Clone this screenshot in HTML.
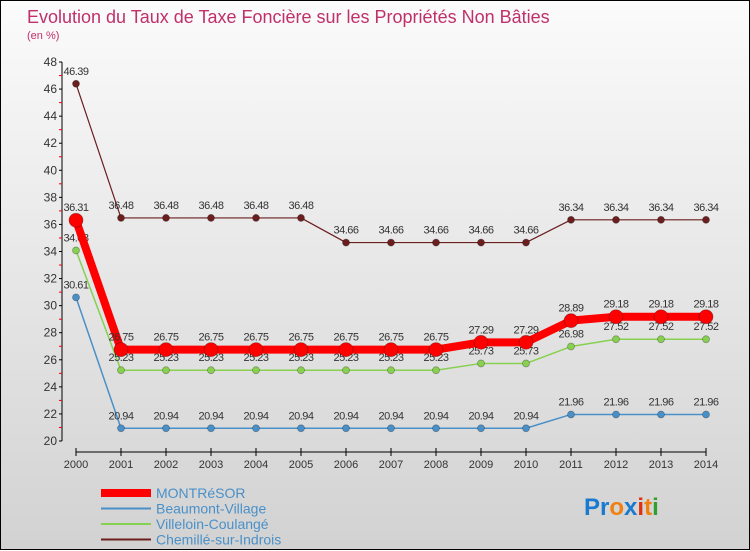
<!DOCTYPE html>
<html><head><meta charset="utf-8"><style>
body{margin:0;}
#wrap{width:750px;height:550px;position:relative;background:linear-gradient(#fbfbfb,#d2d2d2);border:1px solid #000;box-sizing:border-box;font-family:"Liberation Sans",sans-serif;}
svg text{font-family:"Liberation Sans",sans-serif;}
</style></head><body>
<div id="wrap">
<svg id="chart" width="750" height="550" style="position:absolute;left:0;top:0">
<text x="26" y="22" font-size="18" fill="#c0306a">Evolution du Taux de Taxe Foncière sur les Propriétés Non Bâties</text>
<text x="26" y="38" font-size="11" fill="#c0306a">(en %)</text>
<g id="axes"></g><g id="series"></g><g id="legend"></g>
<text x="583" y="514" font-size="24" font-weight="bold"><tspan fill="#1a7ad0">Pr</tspan><tspan fill="#f08010">o</tspan><tspan fill="#1a7ad0">x</tspan><tspan fill="#e03010">i</tspan><tspan fill="#f08010">t</tspan><tspan fill="#30a030">i</tspan></text>
</svg>
</div>
<script>
const years=[2000,2001,2002,2003,2004,2005,2006,2007,2008,2009,2010,2011,2012,2013,2014];
const yTicks=[20,22,24,26,28,30,32,34,36,38,40,42,44,46,48];
const montresor=[36.31,26.75,26.75,26.75,26.75,26.75,26.75,26.75,26.75,27.29,27.29,28.89,29.18,29.18,29.18];
const beaumont=[30.61,20.94,20.94,20.94,20.94,20.94,20.94,20.94,20.94,20.94,20.94,21.96,21.96,21.96,21.96];
const villeloin=[34.08,25.23,25.23,25.23,25.23,25.23,25.23,25.23,25.23,25.73,25.73,26.98,27.52,27.52,27.52];
const chemille=[46.39,36.48,36.48,36.48,36.48,36.48,34.66,34.66,34.66,34.66,34.66,36.34,36.34,36.34,36.34];
const NS="http://www.w3.org/2000/svg";
const X=i=>75+i*45;
const Y=v=>440-(v-20)*(379/28);
function mk(p,tag,attrs){const e=document.createElementNS(NS,tag);for(const k in attrs)e.setAttribute(k,attrs[k]);p.appendChild(e);return e;}
const axes=document.getElementById('axes');
let e=mk(axes,'line',{x1:61,y1:Y(48),x2:61,y2:Y(20),stroke:'#000'});

yTicks.forEach(t=>{mk(axes,'line',{x1:58,y1:Y(t),x2:61,y2:Y(t),stroke:'#000'});
 if(t<48){mk(axes,'line',{x1:58,y1:Y(t+1),x2:61,y2:Y(t+1),stroke:'#e00'});}
 const tx=mk(axes,'text',{x:56,y:Y(t)+4,'font-size':12,fill:'#333','text-anchor':'end'});tx.textContent=t;
 });
e=mk(axes,'line',{x1:X(0),y1:451,x2:X(14),y2:451,stroke:'#000'});

years.forEach((yr,i)=>{mk(axes,'line',{x1:X(i),y1:447,x2:X(i),y2:455,stroke:'#000'});
 const tx=mk(axes,'text',{x:X(i),y:467,'font-size':11,fill:'#333','text-anchor':'middle'});tx.textContent=yr;
 });
const ser=document.getElementById('series');
function draw(vals,color,w,r,name){
 const g=mk(ser,'g',{});
 
 mk(g,'polyline',{points:vals.map((v,i)=>X(i)+','+Y(v)).join(' '),fill:'none',stroke:color,'stroke-width':w,'stroke-linejoin':'round'});
 vals.forEach((v,i)=>{const c=mk(g,'circle',{cx:X(i),cy:Y(v),r:r,fill:color,stroke:'rgba(0,0,0,0.3)','stroke-width':0.8});
  
  const t=mk(g,'text',{x:X(i),y:Y(v)-9,'font-size':11,fill:'#333','text-anchor':'middle','letter-spacing':'-0.5'});t.textContent=v.toFixed(2);
  });
}
draw(chemille,'#6b1e1e',1.2,3.5,'series-chemille');
draw(villeloin,'#88d050',1.5,3.5,'series-villeloin');
draw(beaumont,'#4a90c8',1.5,3.5,'series-beaumont');
draw(montresor,'#ff0000',8,7,'series-montresor');
const lg=document.getElementById('legend');
const leg=[['MONTRéSOR','#ff0000',8],['Beaumont-Village','#4a90c8',2],['Villeloin-Coulangé','#88d050',2],['Chemillé-sur-Indrois','#6b1e1e',2]];
leg.forEach((l,i)=>{const y=492+i*15.5;const g=mk(lg,'g',{});
 
 mk(g,'line',{x1:100,y1:y,x2:150,y2:y,stroke:l[1],'stroke-width':l[2]});
 const t=mk(g,'text',{x:155,y:y+5,'font-size':14,fill:'#4a90c8'});t.textContent=l[0];});
</script>
</body></html>
